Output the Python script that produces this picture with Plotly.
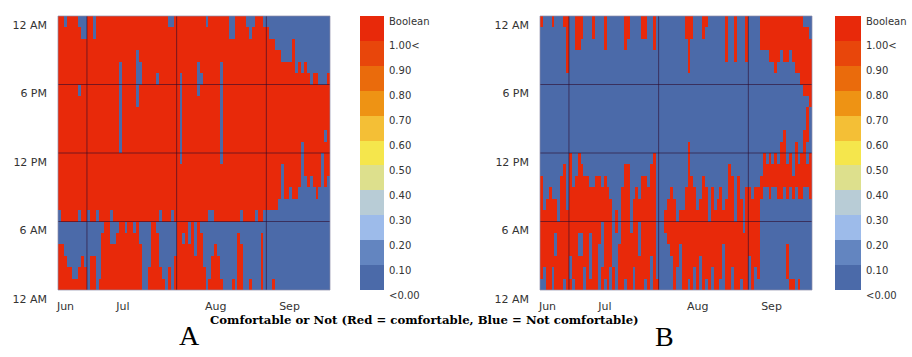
import datetime as dt
import plotly.graph_objects as go

# ---------------- data ----------------
# Comfortable hours (red) per day, Jun 21 .. Sep 22, as "start-end" hour ranges
A_comfort = [
    "0-4,7-24", "0-4,6-24", "0-3,6-23", "0-2,6-24", "0-2,6-24",
    "0-1,6-24", "0-1,6-24", "0-2,7-17,18-23", "0-3,6-22", "0-2,6-22",
    "7-24", "0-3,6-24", "0-3,6-22", "7-24", "0-1,6-24",
    "0-5,6-24", "0-24", "0-24", "0-4,7-24", "0-4,6-24",
    "0-5,6-24", "0-12,20-24", "0-24", "0-5,6-24", "0-24",
    "0-24", "0-5,6-24", "0-16,21-24", "0-4,6-18,20-24", "6-24",
    "6-24", "0-2,6-24", "0-24", "0-24", "0-5,6-18,19-24",
    "0-2,7-24", "0-1,6-24", "6-24", "0-2,6-23", "7-23",
    "0-3,6-24", "0-24", "0-11,19-24", "0-4,5-24", "0-24",
    "0-4,6-24", "0-24", "0-3,6-24", "0-17,20-24", "0-5,6-18,19-24",
    "0-2,6-24", "6-23", "0-1,7-24", "0-3,7-24", "0-4,6-24",
    "0-3,6-24", "0-1,6-11,20-24", "6-24", "6-24", "6-22",
    "0-1,6-22", "6-24", "0-5,6-24", "0-4,7-24", "6-24",
    "6-23", "0-1,6-22", "6-23", "7-24", "6-24",
    "0-5,6-24", "7-23", "7-23", "7-22", "0-1,7-22",
    "7-21", "8-21", "11-20", "8-20", "8-20",
    "9-20", "8-22", "8-19", "9-20", "13-19",
    "10-20", "9-19", "10-18", "9-19", "8-19",
    "9-18", "12-18", "9-13,14-18", "10-19",
]
B_comfort = [
    "1-10,23-24", "2-7", "0-8", "0-9", "2-8,23-24",
    "0-3,5-8", "0-6", "0-10", "1-11,23-24", "0-7,19-24",
    "0-1,3-12", "1-9", "0-10,21-24", "0-3,5-12,21-24", "0-3,5-11,22-24",
    "2-10", "0-10", "0-1,5-9", "0-9,22-24", "0-10",
    "4-10", "0-2,6-9", "1-10,21-24", "0-9", "2-8",
    "0-2", "5-7", "0-4", "0-9", "1-11,21-24",
    "0-11,22-24", "0-5", "2-8", "0-9", "0-3,6-8",
    "0-10,22-24", "1-10,22-24", "0-9", "3-11", "0-12,21-24",
    "0-1", "", "", "5-7", "4-8",
    "3-9", "0-8", "2-6", "4-7", "0-7",
    "0-9,22-24", "1-13,19-24", "0-10,22-24", "2-9", "0-7",
    "3-8", "0-10,22-24", "1-9,23-24", "0-6", "2-9",
    "0-7", "0-8", "1-9", "4-7", "0-8,20-24",
    "0-11", "2-10", "0-6,20-24", "0-10", "1-8",
    "0-5", "0-9,20-24", "3-9", "0-8", "2-9",
    "1-9", "8-10,21-24", "9-12,21-24", "9-11,21-24", "8-12,20-24",
    "9-11,20-24", "9-12,19-24", "8-11,20-24", "8-13,21-24", "9-14,20-24",
    "1-4,8-11,20-24", "0-1,9-12,21-24", "0-1,8-10,20-24", "9-13,19-24", "0-1,8-11,19-24",
    "8-12,18-24", "9-14,17-23", "9-11,13-16,17-23", "8-12,16-22",
]
start_date = dt.date(2023, 6, 21)
month_starts = ["2023-07-01", "2023-08-01", "2023-09-01"]
month_labels = ["Jun", "Jul", "Aug", "Sep"]
month_label_dates = ["2023-06-23 14:00", "2023-07-13 10:00", "2023-08-14 12:00", "2023-09-09 00:00"]
hour_ticks = [0, 6, 12, 18, 24]
hour_labels = ["12 AM", "6 AM", "12 PM", "6 PM", "12 AM"]
legend_labels = ["<0.00", "0.10", "0.20", "0.30", "0.40", "0.50", "0.60",
                 "0.70", "0.80", "0.90", "1.00<", "Boolean"]
legend_colors = ["#4b6aa9", "#6385c0", "#9dbbea", "#b8ccd6", "#dde08d", "#f5e64c",
                 "#f4bf36", "#ee9314", "#ea6b0c", "#e8460b", "#e8290a"]

# ---------------- build ----------------
W, H = 912, 357
BLUE, RED = legend_colors[0], legend_colors[-1]
n_days = len(A_comfort)
days = [start_date + dt.timedelta(days=i) for i in range(n_days)]
xs = [f"{d.isoformat()} 12:00" for d in days]
x_range = [f"{start_date.isoformat()} 00:00",
           f"{(start_date + dt.timedelta(days=n_days)).isoformat()} 00:00"]
ys = [h + 0.5 for h in range(24)]


def to_matrix(spec):
    z = [[0] * len(spec) for _ in range(24)]
    for j, s in enumerate(spec):
        for part in filter(None, s.split(",")):
            a, b = map(int, part.split("-"))
            for h in range(a, b):
                z[h][j] = 1
    return z


def px_x(p):
    return p / W


def px_y(p):
    return 1 - p / H


ydom = [px_y(290), px_y(16)]
panels = [
    dict(z=to_matrix(A_comfort), dom=[px_x(58), px_x(330)], leg=[px_x(360), px_x(384)]),
    dict(z=to_matrix(B_comfort), dom=[px_x(540), px_x(812)], leg=[px_x(835), px_x(861)]),
]

fig = go.Figure()
tick_font = dict(family="DejaVu Sans, Verdana, sans-serif", size=11, color="#333333")
leg_font = dict(family="DejaVu Sans, Verdana, sans-serif", size=10, color="#333333")
grid_col = "rgba(45,10,45,0.6)"
shapes = []
layout = {}
legend_bounds = [i * 0.1 for i in range(len(legend_labels))]

for k, p in enumerate(panels):
    ix = 2 * k + 1
    il = 2 * k + 2
    xa, ya = ("x" if ix == 1 else f"x{ix}"), ("y" if ix == 1 else f"y{ix}")
    xl, yl = f"x{il}", f"y{il}"
    fig.add_trace(go.Heatmap(
        x=xs, y=ys, z=p["z"], zmin=0, zmax=1,
        colorscale=[[0, BLUE], [0.5, BLUE], [0.5, RED], [1, RED]],
        showscale=False, xaxis=xa, yaxis=ya, hoverinfo="skip"))
    fig.add_trace(go.Heatmap(
        x=[0], y=[b + 0.05 for b in legend_bounds[:-1]],
        z=[[i] for i in range(len(legend_colors))],
        zmin=0, zmax=len(legend_colors) - 1,
        colorscale=[[i / (len(legend_colors) - 1), c] for i, c in enumerate(legend_colors)],
        showscale=False, xaxis=xl, yaxis=yl, hoverinfo="skip"))

    layout["xaxis" if ix == 1 else f"xaxis{ix}"] = dict(
        domain=p["dom"], anchor=ya, type="date", range=x_range,
        tickmode="array", tickvals=month_label_dates, ticktext=month_labels,
        ticks="", showgrid=False, zeroline=False, tickfont=tick_font,
        ticklabelstandoff=8, automargin=False, fixedrange=True)
    layout["yaxis" if ix == 1 else f"yaxis{ix}"] = dict(
        domain=ydom, anchor=xa, range=[0, 24],
        tickmode="array", tickvals=hour_ticks, ticktext=hour_labels,
        ticks="", showgrid=False, zeroline=False, tickfont=tick_font,
        ticklabelshift=9, ticklabelstandoff=10, automargin=False, fixedrange=True)
    layout[f"xaxis{il}"] = dict(domain=p["leg"], anchor=yl, range=[-0.5, 0.5],
                                visible=False, fixedrange=True)
    layout[f"yaxis{il}"] = dict(domain=ydom, anchor=xl, range=[0, 1.1], side="right",
                                tickmode="array", tickvals=legend_bounds, ticktext=legend_labels,
                                ticks="", showgrid=False, zeroline=False, showline=False,
                                tickfont=leg_font, ticklabelshift=5, ticklabelstandoff=4,
                                automargin=False, fixedrange=True)

    for m in month_starts:
        shapes.append(dict(type="line", xref=xa, yref=f"{ya} domain", x0=m, x1=m, y0=0, y1=1,
                           line=dict(color=grid_col, width=1), layer="above"))
    for h in hour_ticks[1:-1]:
        shapes.append(dict(type="line", xref=f"{xa} domain", yref=ya, x0=0, x1=1, y0=h, y1=h,
                           line=dict(color=grid_col, width=1), layer="above"))
    shapes.append(dict(type="rect", xref=f"{xa} domain", yref=f"{ya} domain", x0=0, x1=1, y0=0, y1=1,
                       line=dict(color="rgba(140,140,170,0.7)", width=1), layer="above"))

letter_font = dict(family="Liberation Serif, Times New Roman, serif", size=28, color="#000000")
annotations = [
    dict(text="A", x=px_x(189), y=px_y(335), xref="paper", yref="paper", showarrow=False,
         xanchor="center", yanchor="middle", font=letter_font),
    dict(text="B", x=px_x(664), y=px_y(336), xref="paper", yref="paper", showarrow=False,
         xanchor="center", yanchor="middle", font=letter_font),
    dict(text="<b>Comfortable or Not (Red = comfortable, Blue = Not comfortable)</b>",
         x=px_x(208), y=px_y(320), xref="paper", yref="paper", showarrow=False,
         xanchor="left", yanchor="middle",
         font=dict(family="DejaVu Serif, Liberation Serif, serif", size=11.7, color="#000000")),
]

fig.update_layout(
    width=W, height=H, margin=dict(l=0, r=0, t=0, b=0),
    paper_bgcolor="white", plot_bgcolor="white",
    shapes=shapes, annotations=annotations, showlegend=False, **layout)

fig.write_html("out.html", config={"displayModeBar": False})
